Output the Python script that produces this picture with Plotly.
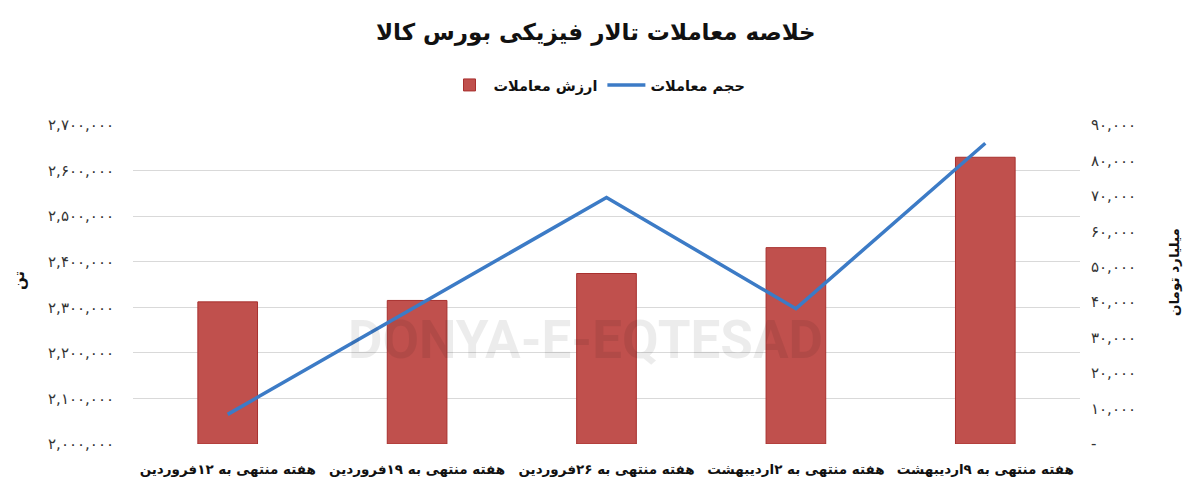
import plotly.graph_objects as go

categories = [
    "هفته منتهی به ۱۲فروردین",
    "هفته منتهی به ۱۹فروردین",
    "هفته منتهی به ۲۶فروردین",
    "هفته منتهی به ۲اردیبهشت",
    "هفته منتهی به ۹اردیبهشت",
]
# ارزش معاملات (میلیارد تومان) - bars, right axis
value_bn_toman = [40100, 40500, 48100, 55400, 80900]
# حجم معاملات (تن) - line, left axis
volume_ton = [2065000, 2302000, 2541000, 2297000, 2660000]

left_tickvals = [2000000, 2100000, 2200000, 2300000, 2400000, 2500000, 2600000, 2700000]
left_ticktext = ["۲,۰۰۰,۰۰۰", "۲,۱۰۰,۰۰۰", "۲,۲۰۰,۰۰۰", "۲,۳۰۰,۰۰۰",
                 "۲,۴۰۰,۰۰۰", "۲,۵۰۰,۰۰۰", "۲,۶۰۰,۰۰۰", "۲,۷۰۰,۰۰۰"]
right_tickvals = [0, 10000, 20000, 30000, 40000, 50000, 60000, 70000, 80000, 90000]
right_ticktext = ["-", "۱۰,۰۰۰", "۲۰,۰۰۰", "۳۰,۰۰۰", "۴۰,۰۰۰",
                  "۵۰,۰۰۰", "۶۰,۰۰۰", "۷۰,۰۰۰", "۸۰,۰۰۰", "۹۰,۰۰۰"]

FONT = "DejaVu Sans"

# page body has an 8px margin: figure is drawn 8px smaller and offset
W, H = 1192, 489
L, R, T, B = 125, 120, 117, 53
PW, PH = W - L - R, H - T - B


def px(xs):  # screen x -> paper
    return (xs - 8 - L) / PW


def py(ys):  # screen y -> paper
    return (H - B - (ys - 8)) / PH


fig = go.Figure()
fig.add_trace(go.Bar(
    x=categories, y=value_bn_toman, name="ارزش معاملات",
    marker=dict(color="#C0504D", line=dict(color="#A8302E", width=1)),
    width=0.315, yaxis="y",
))
fig.add_trace(go.Scatter(
    x=categories, y=volume_ton, name="حجم معاملات", mode="lines",
    line=dict(color="#3C7BC6", width=3.5), yaxis="y2",
))

fig.update_layout(
    width=W, height=H,
    margin=dict(l=L, r=R, t=T, b=B),
    paper_bgcolor="white", plot_bgcolor="white",
    font=dict(family=FONT, color="#222"),
    showlegend=True,
    title=dict(text="خلاصه معاملات تالار فیزیکی بورس کالا",
               x=px(600), xanchor="center", y=1 - 24 / H, yanchor="middle",
               font=dict(size=23, family=FONT, color="#111", weight="bold")),
    legend=dict(orientation="h", x=px(598), xanchor="center",
                y=py(85), yanchor="middle",
                font=dict(size=14.5, family=FONT, color="#111", weight="bold"),
                itemwidth=38, traceorder="normal"),
    xaxis=dict(showgrid=False, showline=False, zeroline=False,
               tickfont=dict(size=13.5, family=FONT, color="#111", weight="bold"),
               ticklabelstandoff=15),
    yaxis=dict(side="right", range=[0, 90000], tickvals=right_tickvals,
               ticktext=right_ticktext, showgrid=False, zeroline=False,
               showline=False, ticklabelstandoff=10,
               tickfont=dict(size=15, family=FONT, color="#333")),
    yaxis2=dict(side="left", overlaying="y", range=[2000000, 2700000],
                tickvals=left_tickvals, ticktext=left_ticktext,
                showgrid=True, gridcolor="#D9D9D9", gridwidth=1,
                zeroline=False, showline=False, ticklabelstandoff=18,
                tickfont=dict(size=15, family=FONT, color="#333")),
    annotations=[
        dict(text="تن", x=px(19), xref="paper", y=py(281), yref="paper",
             showarrow=False, textangle=-90, xanchor="center",
             font=dict(size=15, family=FONT, color="#111", weight="bold")),
        dict(text="میلیارد تومان", x=px(1174), xref="paper", y=py(272), yref="paper",
             showarrow=False, textangle=-90, xanchor="center",
             font=dict(size=13.5, family=FONT, color="#111", weight="bold")),
        dict(text="DONYA-E-EQTESAD", x=px(585), xref="paper",
             y=py(373), yref="paper", showarrow=False,
             font=dict(size=53, family="Roboto", color="rgba(0,0,0,0.075)", weight="bold")),
    ],
)

fig.write_html("out.html")
